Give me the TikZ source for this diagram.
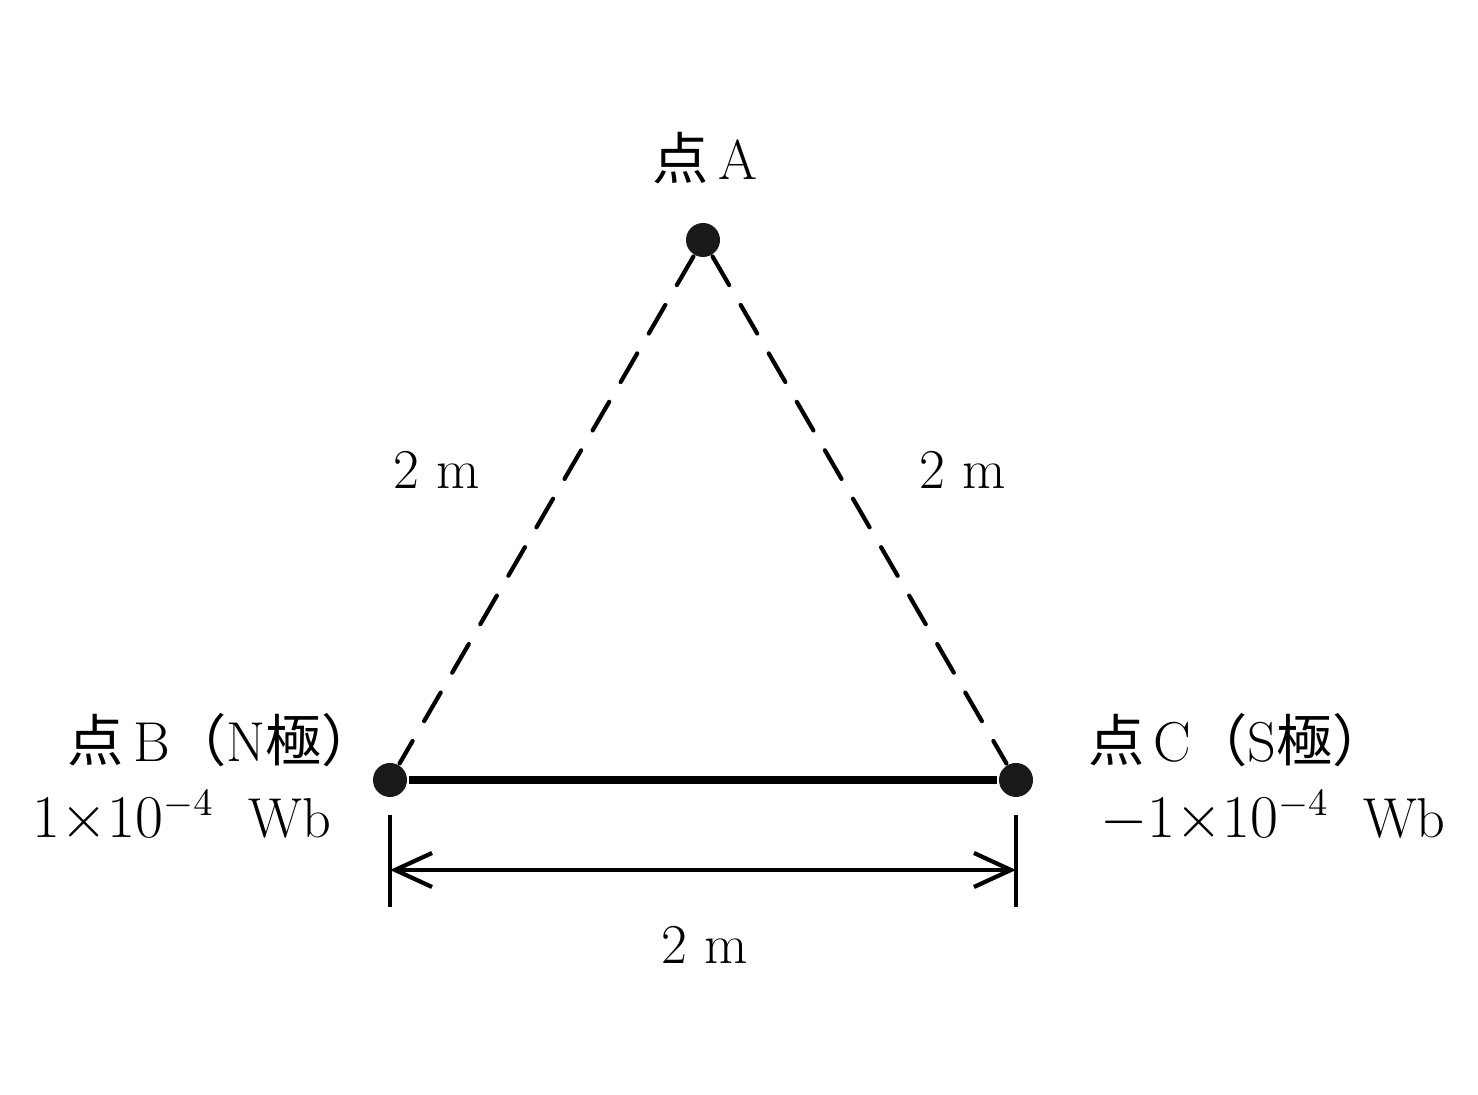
\documentclass[tikz,border=0pt]{standalone}
\usepackage{fontspec}
\newfontfamily\jp{Noto Sans CJK JP}
\usetikzlibrary{arrows.meta}

\begin{document}
\begin{tikzpicture}[line width=1.2pt, font=\fontsize{16}{19}\selectfont,
    pole/.style={circle, fill=black!90, inner sep=0pt, minimum size=3.4mm},
    guide/.style={dash pattern=on 3.3mm off 2.3mm, line cap=round},
    dimline/.style={{Straight Barb[length=3.7mm,width=3.4mm]}-{Straight Barb[length=3.7mm,width=3.4mm]}}]
    % frame (Bounding box)
    \useasboundingbox (0,0) rectangle (14.78,10.95);

    % points (Coordinates)
    \node[pole] (A) at (7.03,8.55) {};
    \node[pole] (B) at (3.90,3.15) {};
    \node[pole] (C) at (10.16,3.15) {};

    % sides of the triangle
    \draw[guide] (A) -- (B);
    \draw[guide] (A) -- (C);
    \draw[line width=2.3pt] (B) -- (C);

    % dimension line (2 m between B and C)
    \coordinate (Bt) at (3.90,2.80);
    \coordinate (Bb) at (3.90,1.88);
    \coordinate (Ct) at (10.16,2.80);
    \coordinate (Cb) at (10.16,1.88);
    \coordinate (Bm) at (3.90,2.25);
    \coordinate (Cm) at (10.16,2.25);
    \draw (Bt) -- (Bb);
    \draw (Ct) -- (Cb);
    \draw[dimline] (Bm) -- (Cm);

    % labels
    \node (labA) at (7.05,9.37) {{\jp 点}\,A};
    \node (lenAB) at (4.37,6.25) {2 m};
    \node (lenAC) at (9.63,6.25) {2 m};
    \node (lenBC) at (7.05,1.50) {2 m};

    \node[anchor=base east, inner sep=0pt] (labB) at (3.80,3.33) {{\jp 点}\,B{\jp （}N{\jp 極）}};
    \node[anchor=base east, inner sep=0pt] (fluxB) at (3.33,2.57) {$1{\times}10^{-4}$\ \ Wb};
    \node[anchor=base west, inner sep=0pt] (labC) at (10.86,3.33) {{\jp 点}\,C{\jp （}S{\jp 極）}};
    \node[anchor=base west, inner sep=0pt] (fluxC) at (10.98,2.57) {$-1{\times}10^{-4}$\ \ Wb};

\end{tikzpicture}
\end{document}
